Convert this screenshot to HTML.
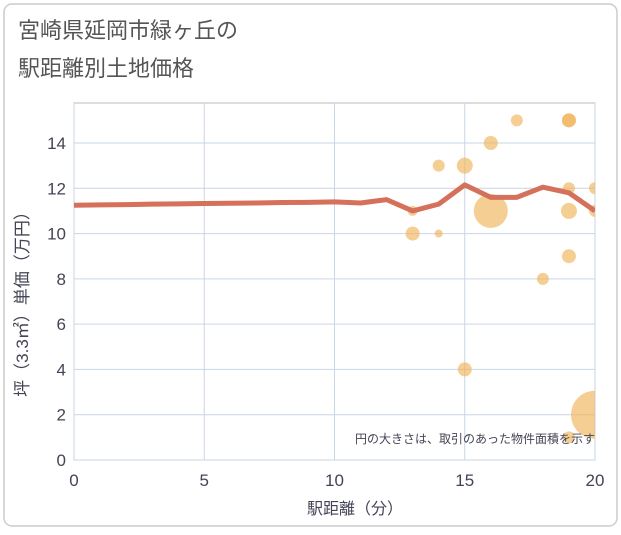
<!DOCTYPE html>
<html><head><meta charset="utf-8"><style>
body{margin:0;background:#fff;font-family:"Liberation Sans","Noto Sans CJK JP",sans-serif}
#wrap{position:relative;width:621px;height:530px}
</style></head><body>
<div id="wrap">
<svg id="chart" width="621" height="530" xmlns="http://www.w3.org/2000/svg">
<defs><clipPath id="pc"><rect x="74" y="103" width="521" height="357"/></clipPath></defs>
<rect x="4" y="4" width="613" height="522" rx="8" fill="#fff" stroke="#ccc" stroke-width="1.5"/>
<text x="18" y="38" font-size="22" fill="#555" font-family="Liberation Sans, Noto Sans CJK JP, sans-serif">宮崎県延岡市緑ヶ丘の</text>
<text x="18" y="76" font-size="22" fill="#555" font-family="Liberation Sans, Noto Sans CJK JP, sans-serif">駅距離別土地価格</text>
<g id="grid"></g><g id="bubbles" clip-path="url(#pc)"></g><g id="line" clip-path="url(#pc)"></g><g id="axes"></g>
<text x="595" y="443" font-size="12" fill="#445" text-anchor="end" font-family="Liberation Sans, Noto Sans CJK JP, sans-serif">円の大きさは、取引のあった物件面積を示す</text>
<text x="355" y="514" font-size="16" fill="#445" text-anchor="middle" font-family="Liberation Sans, Noto Sans CJK JP, sans-serif">駅距離（分）</text>
<text transform="translate(28,300) rotate(-90)" font-size="17" fill="#445" text-anchor="middle" font-family="Liberation Sans, Noto Sans CJK JP, sans-serif">坪（3.3㎡）単価（万円）</text>
</svg></div>
<script>
const xTicks=[0,5,10,15,20];
const yTicks=[0,2,4,6,8,10,12,14];
const bubbleX=[13,13,14,14,15,15,16,16,17,18,19,19,19,19,19,19,20,20,20];
const bubbleY=[11,10,13,10,13,4,14,11,15,8,15,15,12,11,9,1,2,12,11];
const bubbleR=[5,7,6,4,8,7,7,17,6,6,7,7,6,8,7,6,24,6,6];
const lineX=[0,1,2,3,4,5,6,7,8,9,10,11,12,13,14,15,16,17,18,19,20];
const lineY=[11.25,11.27,11.28,11.3,11.31,11.33,11.34,11.35,11.37,11.38,11.4,11.35,11.5,11.0,11.3,12.15,11.6,11.6,12.05,11.8,11.0];
const L=74,R=595,T=103,B=460;
const sx=v=>L+(R-L)*v/20, sy=v=>B-(B-143)*v/14;
const NS="http://www.w3.org/2000/svg";
function mk(tag,attrs,parent){const e=document.createElementNS(NS,tag);for(const k in attrs)e.setAttribute(k,attrs[k]);document.getElementById(parent).appendChild(e);return e;}
let e=mk('rect',{x:L,y:T,width:R-L,height:B-T,fill:'none',stroke:'#bbb'},'grid');


xTicks.forEach(t=>{const g=mk('line',{x1:sx(t),x2:sx(t),y1:T,y2:B,stroke:'#c9d6e6'},'grid');


const l=mk('text',{x:sx(t),y:B+26,'font-size':17,fill:'#445','text-anchor':'middle'},'axes');l.textContent=t;

});
yTicks.forEach(t=>{const g=mk('line',{x1:L,x2:R,y1:sy(t),y2:sy(t),stroke:'#c9d6e6'},'grid');


const l=mk('text',{x:L-8,y:sy(t)+6,'font-size':17,fill:'#445','text-anchor':'end'},'axes');l.textContent=t;

});
bubbleX.forEach((x,i)=>{const c=mk('circle',{cx:sx(x),cy:sy(bubbleY[i]),r:bubbleR[i],fill:'rgba(240,180,90,0.65)'},'bubbles');

});
const p=mk('polyline',{points:lineX.map((x,i)=>sx(x)+','+sy(lineY[i])).join(' '),fill:'none',stroke:'#d5705a','stroke-width':5,'stroke-linejoin':'round'},'line');


</script></body></html>
